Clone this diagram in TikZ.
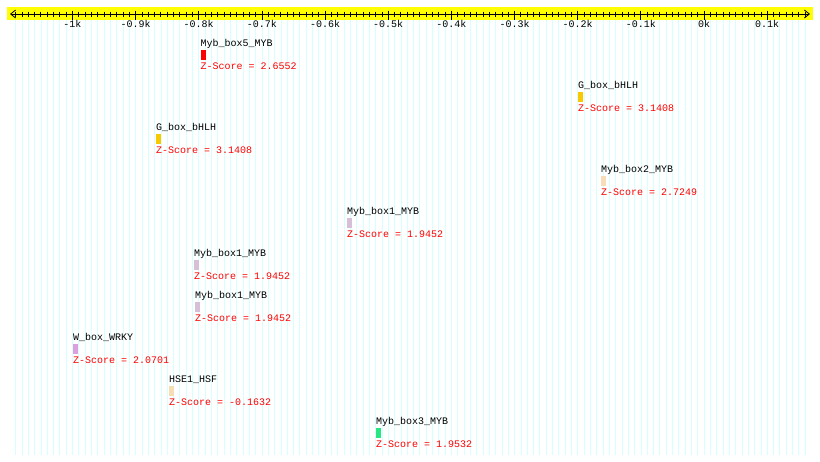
\documentclass[tikz,border=0pt]{standalone}
\usepackage{fontspec}
\setmonofont{Liberation Mono}
\usetikzlibrary{arrows.meta}
\definecolor{gridcyan}{RGB}{214,255,255}
\definecolor{axisyellow}{RGB}{255,255,0}
\definecolor{bhlhgold}{RGB}{250,200,0}
\definecolor{mybtan}{RGB}{248,222,184}
\definecolor{mybthistle}{RGB}{216,191,216}
\definecolor{wrkyplum}{RGB}{221,160,221}
\definecolor{hsfwheat}{RGB}{245,222,179}
\definecolor{mybgreen}{RGB}{40,230,130}

\begin{document}
\begin{tikzpicture}[x=1pt,y=-1pt,font=\ttfamily\fontsize{10}{12}\selectfont,
  site/.style={anchor=base west,inner sep=0pt},
  zscore/.style={site,text=red},
  ticklabel/.style={anchor=base,inner sep=0pt}]
  \def\zero{704}\def\dx{6.316}
  \useasboundingbox (0,0) rectangle (820,461);
  % background grid, one line every 10 bp
  \foreach \i in {-109,...,16}
    \draw[gridcyan,line width=0.6pt] ({\zero+\dx*\i},20) -- ({\zero+\dx*\i},455);
  % axis
  \fill[axisyellow] (7,7) rectangle (813,20);
  \coordinate (axl) at (10,14); \coordinate (axr) at (810,14);
  \draw[line width=0.8pt,{Straight Barb[length=5pt,width=8pt]}-{Straight Barb[length=5pt,width=8pt]}] (axl) -- (axr);
  \foreach \i in {-109,...,16}
    \draw[line width=0.7pt] ({\zero+\dx*\i},11.5) -- ({\zero+\dx*\i},16.5);
  \foreach \v/\lab in {-10/-1k,-9/-0.9k,-8/-0.8k,-7/-0.7k,-6/-0.6k,-5/-0.5k,
                       -4/-0.4k,-3/-0.3k,-2/-0.2k,-1/-0.1k,0/0k,1/0.1k} {
    \draw[line width=0.7pt] ({\zero+\dx*10*\v},10.5) -- ({\zero+\dx*10*\v},19.5);
    \node[ticklabel] (t\v) at ({\zero+\dx*10*\v},27.5) {\lab};
  }
  % sites
  \foreach \nm/\px/\col/\zs [count=\r from 0, evaluate=\r as \ny using 43+42*\r] in {
      Myb\_box5\_MYB/200.5/red/2.6552,
      G\_box\_bHLH/578/bhlhgold/3.1408,
      G\_box\_bHLH/156/bhlhgold/3.1408,
      Myb\_box2\_MYB/601/mybtan/2.7249,
      Myb\_box1\_MYB/347/mybthistle/1.9452,
      Myb\_box1\_MYB/194/mybthistle/1.9452,
      Myb\_box1\_MYB/195/mybthistle/1.9452,
      W\_box\_WRKY/73/wrkyplum/2.0701,
      HSE1\_HSF/169/hsfwheat/-0.1632,
      Myb\_box3\_MYB/376/mybgreen/1.9532} {
    \node[site] (n\r) at (\px,\ny+3.5) {\nm};
    \fill[\col] (\px,\ny+6.5) rectangle ++(5,10);
    \node[zscore] (z\r) at (\px,\ny+26.5) {Z-Score = \zs};
  }
\end{tikzpicture}
\end{document}
